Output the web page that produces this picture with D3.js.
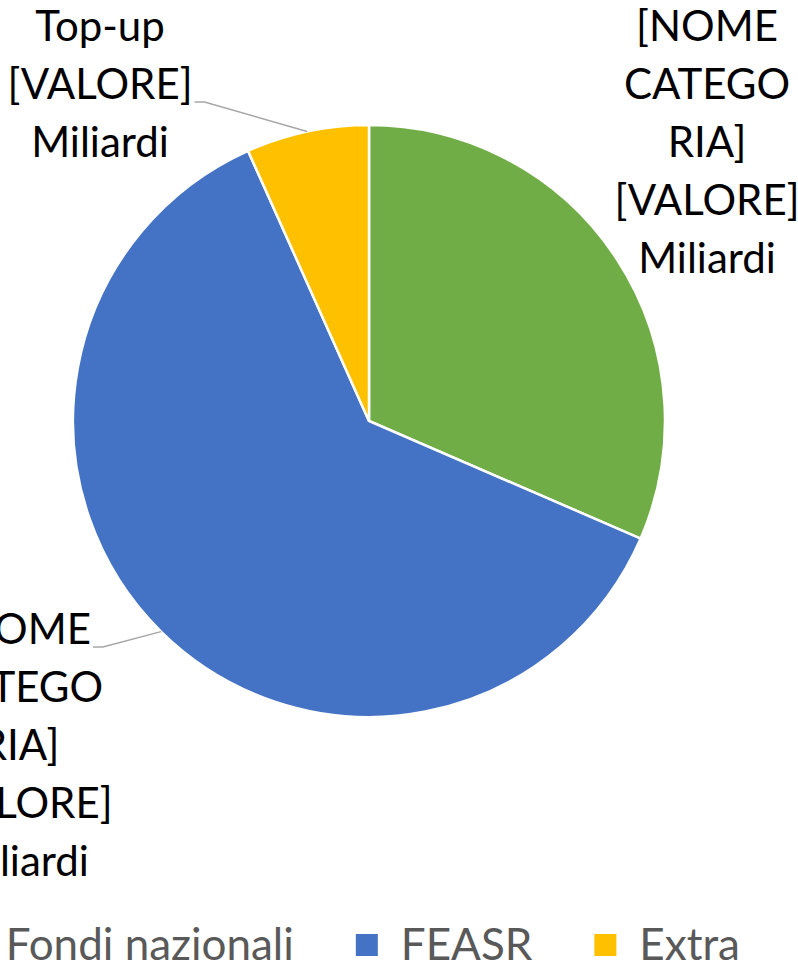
<!DOCTYPE html>
<html>
<head>
<meta charset="utf-8">
<script src="https://cdn.jsdelivr.net/npm/d3@7"></script>
<style>
  body { margin: 0; background: #fff; }
  svg { display: block; font-family: Lato, "Open Sans", sans-serif; }
</style>
</head>
<body>
<svg id="pie-chart"></svg>
<script>
// Data (shares of the whole)
let categories = ["Fondi nazionali", "FEASR", "Extra"];
let values = [31.5, 61.8, 6.7];
let colors = ["#70AD47", "#4472C4", "#FFC000"];

// Data label lines as they appear on the chart
let labelLines = [
  ["[NOME", "CATEGO", "RIA]", "[VALORE]", "Miliardi"],
  ["[NOME", "CATEGO", "RIA]", "[VALORE]", "Miliardi"],
  ["Top-up", "[VALORE]", "Miliardi"]
];

let width = 798, height = 969;
let cx = 369, cy = 421, radius = 296;

let svg = d3.select("#pie-chart")
  .attr("width", width)
  .attr("height", height);

let data = categories.map(function(c, i) {
  return { name: c, value: values[i], color: colors[i], lines: labelLines[i] };
});

let pie = d3.pie()
  .sort(null)
  .value(function(d) { return d.value; });

let arc = d3.arc().innerRadius(0).outerRadius(radius);

let g = svg.append("g").attr("transform", `translate(${cx}, ${cy})`);

let arcs = pie(data);

// Slices
g.selectAll("path.slice")
  .data(arcs)
  .enter().append("path")
  .attr("class", "slice")
  .attr("d", arc)
  .attr("fill", function(d) { return d.data.color; })
  .attr("stroke", "#fff")
  .attr("stroke-width", 2.5);

// Label placement (manually dragged in the original), relative to pie centre
let labelPos = [
  { x: 338, y: -380, leader: false },
  { x: -349, y: 223, leader: true },
  { x: -269, y: -380, leader: true }
];
let fontSize = 42, lineH = 58;

arcs.forEach(function(a, i) {
  let p = labelPos[i];
  let t = g.append("text")
    .attr("text-anchor", "middle")
    .attr("font-size", fontSize)
    .attr("fill", "#000");
  a.data.lines.forEach(function(line, j) {
    t.append("tspan")
      .attr("x", p.x)
      .attr("y", p.y + j * lineH)
      .text(line);
  });

  if (p.leader) {
    // leader from the label line to the slice edge at its mid angle
    let mid = (a.startAngle + a.endAngle) / 2;
    let end = [Math.sin(mid) * radius, -Math.cos(mid) * radius];
    let row = i === 2 ? 1 : 0;
    let tsp = t.selectAll("tspan").nodes()[row];
    let bb = tsp.getBBox();
    let sx = bb.x + bb.width + 2;
    let sy = p.y + row * lineH + 3;
    g.append("polyline")
      .attr("points", [[sx, sy], [sx + 10, sy], end].map(function(q) { return q.join(","); }).join(" "))
      .attr("fill", "none")
      .attr("stroke", "#A6A6A6")
      .attr("stroke-width", 1.5);
  }
});

// Legend (right edge of the last entry sits at x = 740)
let legend = svg.append("g");
let legendY = 945, box = 22, boxGap = 23, itemGap = 62, legendRight = 740;
let items = legend.selectAll("g.item")
  .data(data)
  .enter().append("g")
  .attr("class", "item");

items.append("rect")
  .attr("width", box)
  .attr("height", box)
  .attr("y", legendY - box / 2)
  .attr("fill", function(d) { return d.color; });

items.append("text")
  .attr("y", legendY)
  .attr("dy", "0.35em")
  .attr("font-size", 44)
  .attr("fill", "#595959")
  .text(function(d) { return d.name; });

let widths = [];
items.select("text").each(function() { widths.push(this.getComputedTextLength()); });
let total = d3.sum(widths) + data.length * (box + boxGap) + (data.length - 1) * itemGap;
let xPos = legendRight - total;
items.each(function(d, i) {
  let item = d3.select(this);
  item.select("rect").attr("x", xPos);
  item.select("text").attr("x", xPos + box + boxGap);
  xPos += box + boxGap + widths[i] + itemGap;
});
</script>
</body>
</html>
